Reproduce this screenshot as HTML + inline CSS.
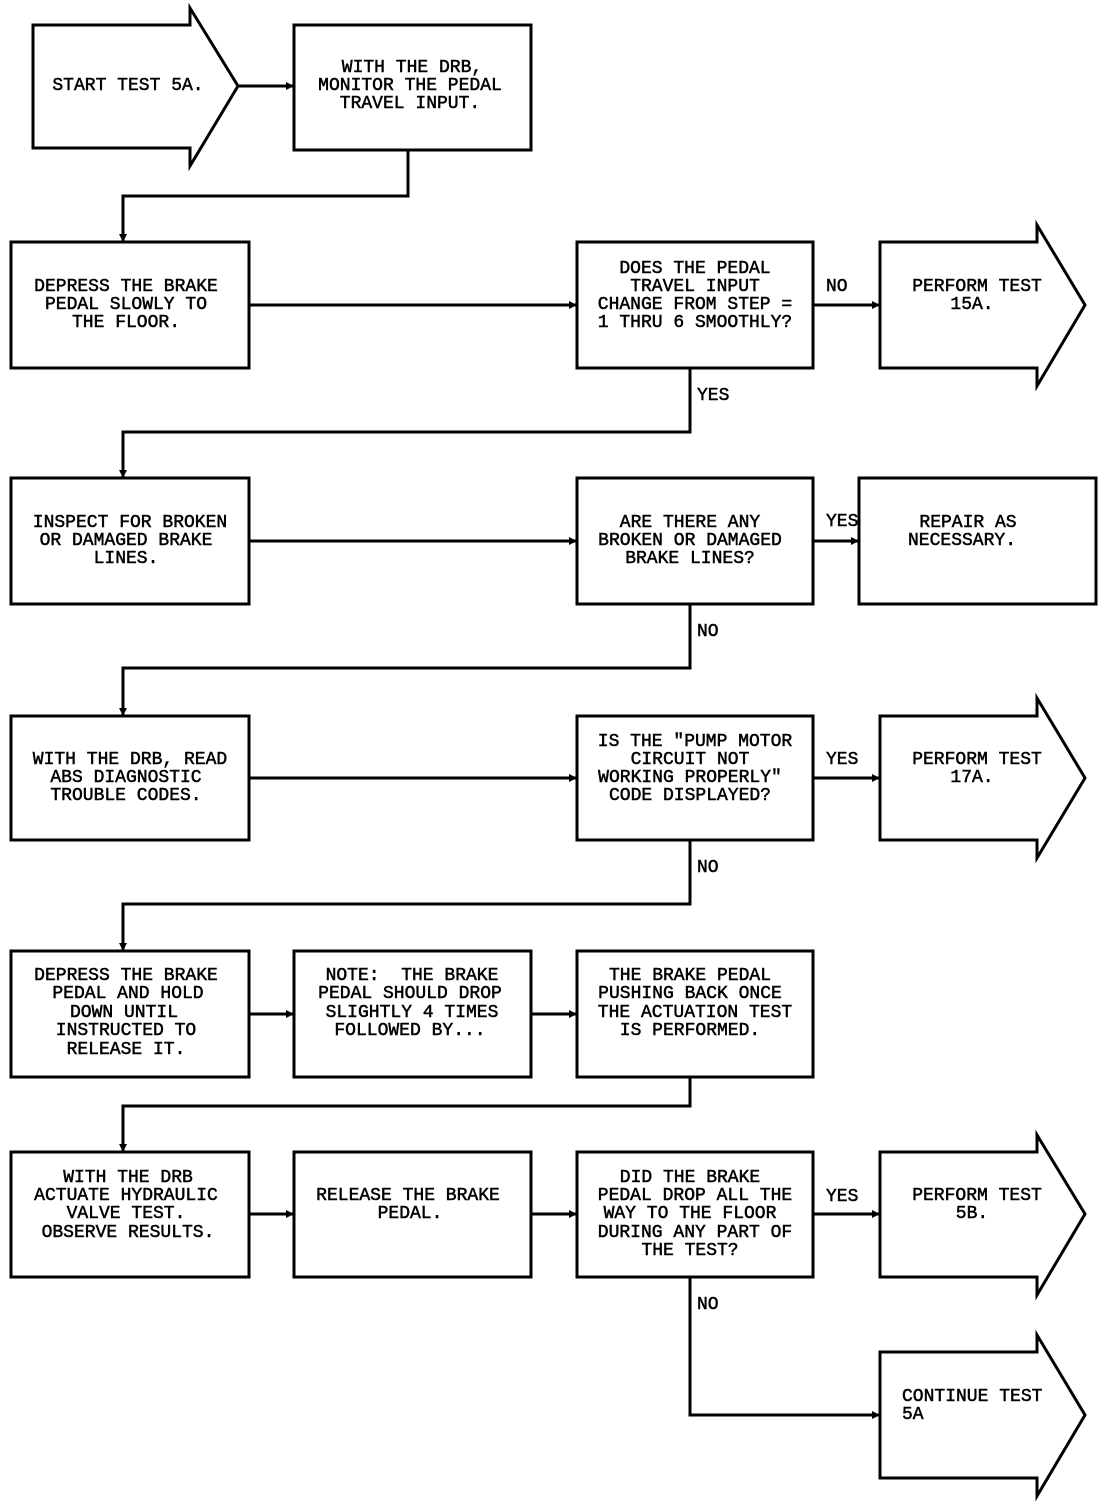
<!DOCTYPE html>
<html><head><meta charset="utf-8"><style>
html,body{margin:0;padding:0;background:#fff;}
svg{display:block;}
text{font-family:"Liberation Mono",monospace;font-size:18px;fill:#000;stroke:#000;stroke-width:0.5;dominant-baseline:central;text-anchor:middle;}
.l{text-anchor:start;}
</style></head><body>
<svg width="1120" height="1504" viewBox="0 0 1120 1504" xmlns="http://www.w3.org/2000/svg">
<g fill="none" stroke="#000" stroke-width="3" stroke-linejoin="miter">
<polygon points="33,25 190,25 190,8 238,86 190,166 190,148 33,148" fill="#fff"/>
<rect x="294" y="25" width="237" height="125"/>
<line x1="238" y1="86" x2="294" y2="86"/>
<polyline points="408,150 408,196 123,196 123,242"/>
<rect x="11" y="242" width="238" height="126"/>
<rect x="577" y="242" width="236" height="126"/>
<polygon points="880,242 1037,242 1037,225 1085,305 1037,386 1037,368 880,368"/>
<line x1="249" y1="305" x2="577" y2="305"/>
<line x1="813" y1="305" x2="880" y2="305"/>
<polyline points="690,368 690,432 123,432 123,478"/>
<rect x="11" y="478" width="238" height="126"/>
<rect x="577" y="478" width="236" height="126"/>
<rect x="859" y="478" width="237" height="126"/>
<line x1="249" y1="541" x2="577" y2="541"/>
<line x1="813" y1="541" x2="859" y2="541"/>
<polyline points="690,604 690,668 123,668 123,716"/>
<rect x="11" y="716" width="238" height="124"/>
<rect x="577" y="716" width="236" height="124"/>
<polygon points="880,716 1037,716 1037,698 1085,778 1037,858 1037,840 880,840"/>
<line x1="249" y1="778" x2="577" y2="778"/>
<line x1="813" y1="778" x2="880" y2="778"/>
<polyline points="690,840 690,904 123,904 123,951"/>
<rect x="11" y="951" width="238" height="126"/>
<rect x="294" y="951" width="237" height="126"/>
<rect x="577" y="951" width="236" height="126"/>
<line x1="249" y1="1014" x2="294" y2="1014"/>
<line x1="531" y1="1014" x2="577" y2="1014"/>
<polyline points="690,1077 690,1106 123,1106 123,1152"/>
<rect x="11" y="1152" width="238" height="125"/>
<rect x="294" y="1152" width="237" height="125"/>
<rect x="577" y="1152" width="236" height="125"/>
<polygon points="880,1152 1037,1152 1037,1135 1085,1214 1037,1295 1037,1277 880,1277"/>
<line x1="249" y1="1214" x2="294" y2="1214"/>
<line x1="531" y1="1214" x2="577" y2="1214"/>
<line x1="813" y1="1214" x2="880" y2="1214"/>
<polyline points="690,1277 690,1415 880,1415"/>
<polygon points="880,1352 1037,1352 1037,1335 1085,1415 1037,1496 1037,1478 880,1478"/>
</g>
<g fill="#000">
<polygon points="294,86 286,82 286,90"/>
<polygon points="577,305 569,301 569,309"/>
<polygon points="880,305 872,301 872,309"/>
<polygon points="577,541 569,537 569,545"/>
<polygon points="859,541 851,537 851,545"/>
<polygon points="577,778 569,774 569,782"/>
<polygon points="880,778 872,774 872,782"/>
<polygon points="294,1014 286,1010 286,1018"/>
<polygon points="577,1014 569,1010 569,1018"/>
<polygon points="294,1214 286,1210 286,1218"/>
<polygon points="577,1214 569,1210 569,1218"/>
<polygon points="880,1214 872,1210 872,1218"/>
<polygon points="880,1415 872,1411 872,1419"/>
<polygon points="123,242 119,234 127,234"/>
<polygon points="123,478 119,470 127,470"/>
<polygon points="123,716 119,708 127,708"/>
<polygon points="123,951 119,943 127,943"/>
<polygon points="123,1152 119,1144 127,1144"/>
</g>
<text x="128" y="86">START TEST 5A.</text>
<text x="412" y="68">WITH THE DRB,</text>
<text x="410" y="86">MONITOR THE PEDAL</text>
<text x="410" y="104">TRAVEL INPUT.</text>

<text x="126" y="287">DEPRESS THE BRAKE</text>
<text x="126" y="305">PEDAL SLOWLY TO</text>
<text x="126" y="323">THE FLOOR.</text>
<text x="695" y="269">DOES THE PEDAL</text>
<text x="695" y="287">TRAVEL INPUT</text>
<text x="695" y="305">CHANGE FROM STEP =</text>
<text x="695" y="323">1 THRU 6 SMOOTHLY?</text>
<text x="977" y="287">PERFORM TEST</text>
<text x="972" y="305">15A.</text>
<text class="l" x="826" y="287">NO</text>
<text class="l" x="697" y="396">YES</text>

<text x="130" y="523">INSPECT FOR BROKEN</text>
<text x="126" y="541">OR DAMAGED BRAKE</text>
<text x="126" y="559">LINES.</text>
<text x="690" y="523">ARE THERE ANY</text>
<text x="690" y="541">BROKEN OR DAMAGED</text>
<text x="690" y="559">BRAKE LINES?</text>
<text x="968" y="523">REPAIR AS</text>
<text x="962" y="541">NECESSARY.</text>
<text class="l" x="826" y="522">YES</text>
<text class="l" x="697" y="632">NO</text>

<text x="130" y="760">WITH THE DRB, READ</text>
<text x="126" y="778">ABS DIAGNOSTIC</text>
<text x="126" y="796">TROUBLE CODES.</text>
<text x="695" y="742">IS THE "PUMP MOTOR</text>
<text x="690" y="760">CIRCUIT NOT</text>
<text x="690" y="778">WORKING PROPERLY"</text>
<text x="690" y="796">CODE DISPLAYED?</text>
<text x="977" y="760">PERFORM TEST</text>
<text x="972" y="778">17A.</text>
<text class="l" x="826" y="760">YES</text>
<text class="l" x="697" y="868">NO</text>

<text x="126" y="976">DEPRESS THE BRAKE</text>
<text x="128" y="994">PEDAL AND HOLD</text>
<text x="124" y="1013">DOWN UNTIL</text>
<text x="126" y="1031">INSTRUCTED TO</text>
<text x="126" y="1050">RELEASE IT.</text>
<text x="412" y="976">NOTE:&#160; THE BRAKE</text>
<text x="410" y="994">PEDAL SHOULD DROP</text>
<text x="412" y="1013">SLIGHTLY 4 TIMES</text>
<text x="410" y="1031">FOLLOWED BY...</text>
<text x="690" y="976">THE BRAKE PEDAL</text>
<text x="690" y="994">PUSHING BACK ONCE</text>
<text x="695" y="1013">THE ACTUATION TEST</text>
<text x="690" y="1031">IS PERFORMED.</text>

<text x="128" y="1178">WITH THE DRB</text>
<text x="126" y="1196">ACTUATE HYDRAULIC</text>
<text x="126" y="1214">VALVE TEST.</text>
<text x="128" y="1233">OBSERVE RESULTS.</text>
<text x="408" y="1196">RELEASE THE BRAKE</text>
<text x="410" y="1214">PEDAL.</text>
<text x="690" y="1178">DID THE BRAKE</text>
<text x="695" y="1196">PEDAL DROP ALL THE</text>
<text x="690" y="1214">WAY TO THE FLOOR</text>
<text x="695" y="1233">DURING ANY PART OF</text>
<text x="690" y="1251">THE TEST?</text>
<text x="977" y="1196">PERFORM TEST</text>
<text x="972" y="1214">5B.</text>
<text class="l" x="826" y="1197">YES</text>
<text class="l" x="697" y="1305">NO</text>
<text class="l" x="902" y="1397">CONTINUE TEST</text>
<text class="l" x="902" y="1415">5A</text>
</svg>
</body></html>
